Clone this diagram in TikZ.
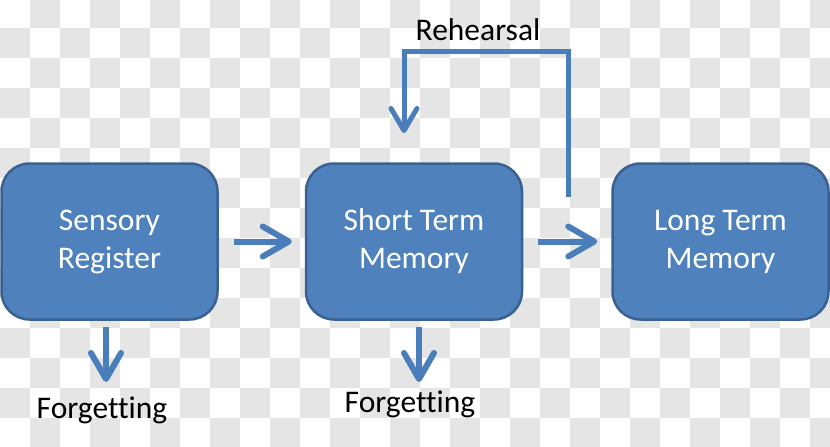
\documentclass[tikz,border=0pt]{standalone}
\usepackage{fontspec}
\setmainfont{Carlito}[Ligatures=NoCommon,RawFeature=-liga]
\usetikzlibrary{arrows.meta}
\definecolor{boxfill}{HTML}{4F81BD}
\definecolor{boxline}{HTML}{3A6192}
\definecolor{arrowblue}{HTML}{4A7EBB}
\definecolor{checkgray}{RGB}{229,229,229}
\begin{document}
\begin{tikzpicture}[x=1pt,y=-1pt,
  memb/.style={draw=boxline, fill=boxfill, line width=2.5pt, rounded corners=28pt,
    minimum width=216pt, minimum height=156pt, inner sep=0pt, align=center,
    text=white, font=\fontsize{31.5}{38}\selectfont},
  flow/.style={draw=arrowblue, line width=6pt, -{Straight Barb[length=26pt,width=30pt,round]}},
  flowthin/.style={draw=arrowblue, line width=5pt, -{Straight Barb[length=22pt,width=26pt,round]}},
  lab/.style={font=\fontsize{31.5}{38}\selectfont, text=black, inner sep=0pt, anchor=base}]
\useasboundingbox (0,0) rectangle (830,447);
\begin{scope}
\clip (0,0) rectangle (830,447);
\fill[white] (0,0) rectangle (830,447);
\foreach \i in {0,...,27}{
  \foreach \j in {0,...,15}{
    \pgfmathtruncatemacro\k{mod(\i+\j,2)}
    \ifnum\k=1 \fill[checkgray] (30*\i,30*\j-2) rectangle ++(30,30); \fi
  }
}
\end{scope}
\node[memb] (sr) at (109.5,241.5) {Sensory\\Register};
\node[memb] (stm) at (414,241.5) {Short Term\\Memory};
\node[memb] (ltm) at (720.5,241.5) {Long Term\\Memory};
\draw[flow] ([xshift=15pt]sr.east) -- ([xshift=-13pt]stm.west);
\draw[flow] ([xshift=15pt]stm.east) -- ([xshift=-14pt]ltm.west);
\coordinate (r1) at (568,197);
\coordinate (r2) at (404,51);
\coordinate (r3) at (404,133);
\draw[flowthin] (r1) |- (r2) -- (r3);
\coordinate (f1s) at (106,327);
\coordinate (f1e) at (106,382);
\coordinate (f2s) at (419,327);
\coordinate (f2e) at (419,382);
\draw[flow] (f1s) -- (f1e);
\draw[flow] (f2s) -- (f2e);
\node[lab] (reh) at (478,40) {Rehearsal};
\node[lab] (fg1) at (102,418) {Forgetting};
\node[lab] (fg2) at (410,412) {Forgetting};
\end{tikzpicture}
\end{document}
